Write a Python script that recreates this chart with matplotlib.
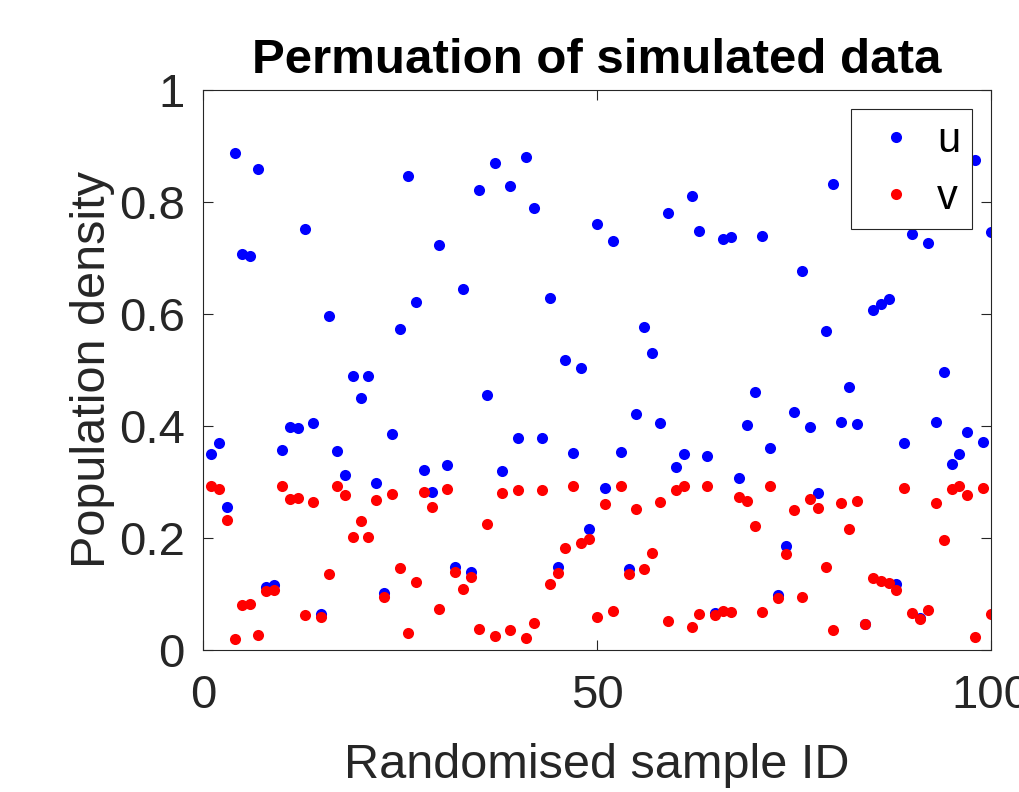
import matplotlib
matplotlib.use("Agg")
import matplotlib.pyplot as plt
import numpy as np

plt.rcParams['font.family'] = ['Liberation Sans', 'DejaVu Sans']

sample_id = list(range(1, 101))

u = [0.350, 0.370, 0.255, 0.887, 0.708, 0.704, 0.859, 0.113, 0.116, 0.358,
     0.399, 0.397, 0.752, 0.406, 0.065, 0.596, 0.355, 0.312, 0.489, 0.450,
     0.489, 0.299, 0.101, 0.386, 0.574, 0.846, 0.621, 0.321, 0.283, 0.724,
     0.331, 0.149, 0.645, 0.139, 0.822, 0.456, 0.869, 0.320, 0.828, 0.378,
     0.881, 0.789, 0.378, 0.629, 0.149, 0.517, 0.351, 0.504, 0.216, 0.760,
     0.290, 0.730, 0.353, 0.145, 0.421, 0.577, 0.531, 0.405, 0.781, 0.327,
     0.350, 0.811, 0.749, 0.346, 0.066, 0.734, 0.738, 0.307, 0.402, 0.460,
     0.739, 0.361, 0.099, 0.186, 0.425, 0.676, 0.399, 0.281, 0.570, 0.832,
     0.408, 0.469, 0.404, 0.047, 0.608, 0.618, 0.626, 0.117, 0.369, 0.743,
     0.057, 0.727, 0.407, 0.497, 0.332, 0.350, 0.389, 0.875, 0.371, 0.747]

v = [0.292, 0.288, 0.233, 0.020, 0.081, 0.082, 0.027, 0.105, 0.107, 0.292,
     0.270, 0.272, 0.062, 0.264, 0.059, 0.135, 0.293, 0.277, 0.202, 0.231,
     0.202, 0.268, 0.095, 0.279, 0.146, 0.031, 0.121, 0.283, 0.255, 0.074,
     0.288, 0.139, 0.109, 0.130, 0.037, 0.225, 0.025, 0.281, 0.035, 0.285,
     0.021, 0.048, 0.285, 0.117, 0.138, 0.182, 0.292, 0.191, 0.199, 0.059,
     0.261, 0.070, 0.293, 0.135, 0.252, 0.145, 0.174, 0.264, 0.051, 0.286,
     0.292, 0.041, 0.064, 0.292, 0.062, 0.069, 0.068, 0.273, 0.266, 0.222,
     0.068, 0.292, 0.093, 0.172, 0.250, 0.094, 0.270, 0.254, 0.149, 0.035,
     0.262, 0.216, 0.266, 0.046, 0.128, 0.124, 0.119, 0.107, 0.290, 0.066,
     0.056, 0.072, 0.262, 0.196, 0.288, 0.293, 0.276, 0.023, 0.290, 0.064]

x_ticks = [0, 50, 100]
y_ticks = [0, 0.2, 0.4, 0.6, 0.8, 1.0]
y_ticklabels = ['0', '0.2', '0.4', '0.6', '0.8', '1']

W, H = 1019, 792
fig = plt.figure(figsize=(W / 100, H / 100), dpi=100)
ax = fig.add_axes([203 / W, (H - 650) / H, 788 / W, 560 / H])

axis_col = '#262626'
ax.plot(sample_id, u, linestyle='none', marker='o', markersize=8,
        color=(0, 0, 1), markeredgewidth=0, label='u')
ax.plot(sample_id, v, linestyle='none', marker='o', markersize=8,
        color=(1, 0, 0), markeredgewidth=0, label='v')

ax.set_xlim(0, 100)
ax.set_ylim(0, 1)
ax.set_xticks(x_ticks)
ax.set_yticks(y_ticks)
ax.set_yticklabels(y_ticklabels)
ax.tick_params(direction='in', length=7, width=0.8, colors=axis_col,
               labelsize=34, top=True, right=True)
ax.tick_params(axis='y', pad=13)
ax.tick_params(axis='x', pad=17)
for s in ax.spines.values():
    s.set_color(axis_col)
    s.set_linewidth(0.8)

ax.set_xlabel('Randomised sample ID', fontsize=35, color=axis_col, labelpad=18)
ax.set_ylabel('Population density', fontsize=35, color=axis_col, labelpad=3)
ax.set_title('Permuation of simulated data', fontsize=35.5, fontweight='bold',
             color='black', pad=12)

leg = ax.legend(loc='upper right', bbox_to_anchor=((972 - 203) / 788, (650 - 109) / 560),
                bbox_transform=ax.transAxes, fontsize=30, frameon=True,
                fancybox=False, framealpha=1, edgecolor=axis_col,
                borderaxespad=0, handlelength=1.62, handletextpad=0.18,
                labelspacing=0.41, borderpad=0.28, markerscale=1.0)
leg.get_frame().set_linewidth(0.8)

fig.savefig('out.png', dpi=100)
